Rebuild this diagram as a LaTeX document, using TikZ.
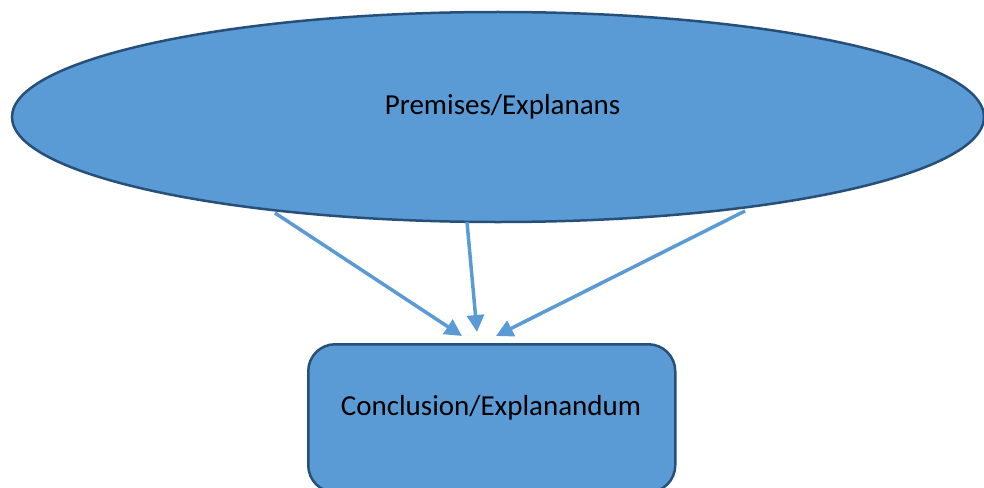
\documentclass[tikz,border=0pt]{standalone}
\usepackage{fontspec}
\setmainfont{Carlito}
\usetikzlibrary{shapes.geometric,arrows.meta}
\definecolor{shapefill}{HTML}{5B9BD5}
\definecolor{shapeline}{HTML}{264F7A}
\definecolor{arrowcol}{HTML}{5B9BD5}
\tikzset{
  shapebox/.style={draw=shapeline, line width=2.5pt, fill=shapefill},
  conn/.style={draw=arrowcol, line width=3.5pt, -{Triangle[length=17pt,width=17pt]}},
  lbl/.style={font=\fontsize{29}{34}\selectfont, text=black, inner sep=0pt}
}
\begin{document}
\begin{tikzpicture}[x=1pt,y=-1pt]
\useasboundingbox (0,0) rectangle (984,487);
\node[shapebox, ellipse, minimum width=972pt, minimum height=210pt, inner sep=0pt] (prem) at (498,117) {};
\node[lbl] (premtxt) at (502.5,107) {Premises/Explanans};
\node[shapebox, rectangle, rounded corners=27pt, minimum width=367pt, minimum height=148pt, inner sep=0pt, anchor=north west] (concl) at (307,343) {};
\node[lbl] (concltxt) at (491,408) {Conclusion/Explanandum};
\coordinate (s1) at (275,213);
\coordinate (s2) at (467,222);
\coordinate (s3) at (745,211);
\coordinate (t1) at (462,336);
\coordinate (t2) at (477,332);
\coordinate (t3) at (496,336);
\draw[conn] (s1) -- (t1);
\draw[conn] (s2) -- (t2);
\draw[conn] (s3) -- (t3);
\end{tikzpicture}
\end{document}
